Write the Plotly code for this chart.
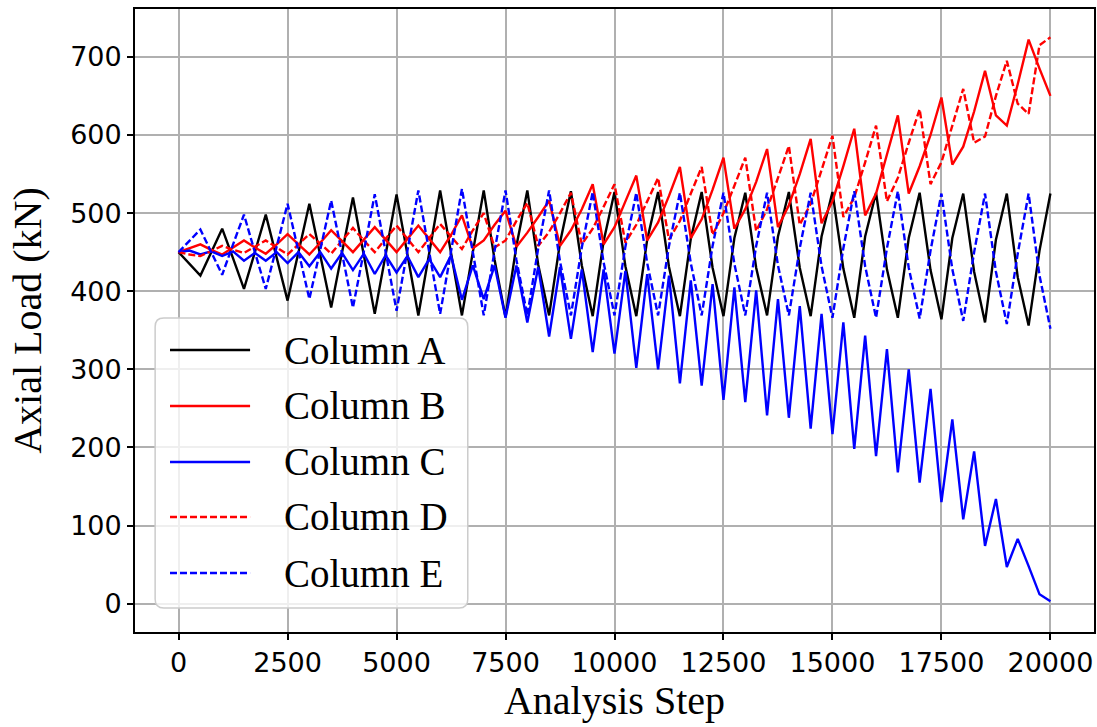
import plotly.graph_objects as go

# analysis steps, sampled every 250 steps
steps = list(range(0, 20001, 250))

# values (kN)
col_a = [450, 435, 420, 450, 480, 442, 403, 450, 498, 443,
         388, 450, 512, 446, 379, 450, 520, 446, 371, 447,
         524, 447, 369, 449, 529, 449, 369, 450, 529, 440,
         367, 458, 529, 434, 369, 462, 528, 433, 368, 464,
         527, 432, 368, 466, 527, 431, 368, 467, 527, 430,
         368, 468, 526, 430, 369, 470, 527, 430, 368, 470,
         527, 429, 366, 470, 526, 428, 366, 468, 526, 427,
         364, 468, 525, 425, 360, 466, 525, 418, 356, 452,
         525]

col_b = [450, 455, 460, 453, 447, 456, 465, 456, 448, 460,
         473, 460, 447, 462, 478, 464, 450, 466, 482, 466,
         450, 467, 484, 467, 450, 472, 497, 455, 465, 485,
         503, 457, 475, 495, 516, 458, 478, 505, 537, 460,
         482, 515, 548, 465, 488, 522, 559, 468, 492, 530,
         571, 480, 505, 540, 582, 482, 510, 550, 595, 487,
         515, 560, 608, 497, 525, 575, 625, 525, 560, 600,
         648, 562, 585, 630, 682, 625, 612, 665, 722, 685,
         650]

col_c = [450, 452, 447, 451, 445, 451, 439, 449, 439, 450,
         436, 450, 432, 450, 429, 449, 427, 448, 422, 446,
         424, 445, 418, 441, 418, 446, 389, 433, 390, 433,
         366, 433, 360, 431, 342, 431, 339, 428, 322, 428,
         320, 426, 302, 422, 300, 420, 282, 414, 279, 409,
         261, 405, 258, 401, 241, 390, 238, 381, 224, 371,
         217, 360, 198, 343, 189, 326, 168, 300, 155, 275,
         130, 236, 108, 195, 74, 134, 47, 83, 48, 12,
         3]

col_d = [450, 447, 445, 452, 458, 453, 449, 457, 465, 456,
         447, 460, 473, 461, 448, 465, 481, 465, 450, 467,
         484, 467, 450, 468, 486, 470, 454, 478, 500, 456,
         465, 490, 513, 458, 476, 500, 526, 460, 480, 508,
         537, 462, 485, 515, 545, 466, 490, 525, 559, 472,
         500, 535, 571, 477, 505, 545, 586, 485, 512, 555,
         599, 495, 520, 565, 612, 515, 545, 590, 633, 537,
         565, 612, 659, 590, 598, 650, 695, 640, 627, 715,
         725]

col_e = [450, 465, 479, 450, 421, 460, 498, 450, 403, 457,
         512, 451, 390, 453, 516, 448, 379, 451, 524, 450,
         375, 452, 529, 450, 371, 451, 531, 450, 369, 452,
         529, 440, 369, 455, 529, 438, 369, 456, 527, 437,
         369, 457, 526, 436, 369, 458, 526, 436, 369, 458,
         526, 435, 369, 458, 526, 433, 369, 455, 526, 432,
         366, 455, 528, 432, 366, 455, 528, 430, 365, 452,
         525, 428, 362, 450, 525, 425, 358, 448, 525, 420,
         352]

names = ['Column A', 'Column B', 'Column C', 'Column D', 'Column E']
series = [col_a, col_b, col_c, col_d, col_e]
colors = ['black', 'red', 'blue', 'red', 'blue']
dashes = ['solid', 'solid', 'solid', '7px,3px', '7px,3px']

serif = 'Liberation Serif, Times New Roman, serif'
sans = 'DejaVu Sans, sans-serif'

fig = go.Figure()
for name, vals, c, d in zip(names, series, colors, dashes):
    fig.add_trace(go.Scatter(x=steps, y=vals, mode='lines', name=name,
                             showlegend=False,
                             line=dict(color=c, width=2.4, dash=d)))

# legend box drawn by hand (matplotlib style, rounded corners), paper coords
bx0, bx1, by0, by1 = 0.021, 0.347, 0.0385, 0.504
rx, ry = 0.009, 0.014
box_path = (f'M{bx0+rx},{by0} L{bx1-rx},{by0} Q{bx1},{by0} {bx1},{by0+ry} '
            f'L{bx1},{by1-ry} Q{bx1},{by1} {bx1-rx},{by1} '
            f'L{bx0+rx},{by1} Q{bx0},{by1} {bx0},{by1-ry} '
            f'L{bx0},{by0+ry} Q{bx0},{by0} {bx0+rx},{by0} Z')
fig.add_shape(type='path', path=box_path, xref='paper', yref='paper',
              fillcolor='rgba(255,255,255,0.8)',
              line=dict(color='#cccccc', width=1.5), layer='above')

entry_y = [0.4526, 0.3628, 0.2729, 0.1846, 0.0947]
for name, c, d, yy in zip(names, colors, dashes, entry_y):
    fig.add_shape(type='line', xref='paper', yref='paper',
                  x0=0.0365, x1=0.120, y0=yy, y1=yy, layer='above',
                  line=dict(color=c, width=2.4, dash=d))
    fig.add_annotation(text=name, xref='paper', yref='paper', x=0.1535, y=yy,
                       xanchor='left', yanchor='middle', showarrow=False,
                       font=dict(family=serif, size=39, color='black'))

fig.update_layout(
    width=1097, height=727,
    margin=dict(l=135, r=3, t=9, b=95),
    paper_bgcolor='white', plot_bgcolor='white',
)
fig.update_xaxes(range=[-1000, 21000], tickvals=list(range(0, 20001, 2500)),
                 tickformat='d', automargin=False,
                 showgrid=True, gridcolor='#b0b0b0', gridwidth=2,
                 showline=True, linecolor='black', linewidth=1.8, mirror=True,
                 ticks='outside', ticklen=6, tickwidth=1.5, tickcolor='black',
                 tickfont=dict(family=sans, size=27, color='black'),
                 zeroline=False,
                 title=dict(text='Analysis Step', standoff=6,
                            font=dict(family=serif, size=40, color='black')))
fig.update_yaxes(range=[-36.25, 761.25], tickvals=list(range(0, 701, 100)),
                 automargin=False,
                 showgrid=True, gridcolor='#b0b0b0', gridwidth=2,
                 showline=True, linecolor='black', linewidth=1.8, mirror=True,
                 ticks='outside', ticklen=6, tickwidth=1.5, tickcolor='black',
                 tickfont=dict(family=sans, size=27, color='black'),
                 zeroline=False,
                 title=dict(text='Axial Load (kN)', standoff=16,
                            font=dict(family=serif, size=40, color='black')))

# drop the default page margin so the figure fills the window exactly
fig.write_html("out.html", config={'displayModeBar': False},
               post_script="document.body.style.margin='0';"
                           "document.body.style.overflow='hidden';")
